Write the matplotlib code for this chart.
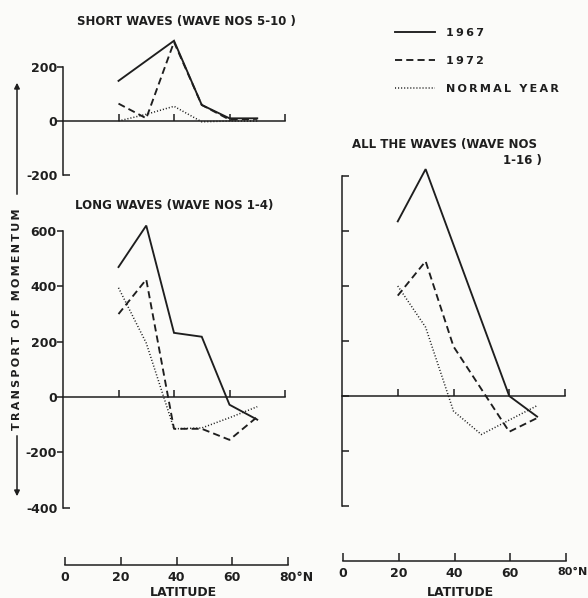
import matplotlib.pyplot as plt
from matplotlib.lines import Line2D

# poleward transport of momentum by standing waves, 1967 vs 1972 vs normal
lat_sw_1967 = [20, 40, 50, 60, 70]
sw_1967 = [150, 300, 60, 10, 10]
lat_sw_1972 = [20, 30, 40, 50, 60, 70]
sw_1972 = [65, 10, 295, 60, 5, 8]
lat_sw_normal = [20, 30, 40, 50, 60, 70]
sw_normal = [0, 25, 55, -3, 0, 0]

lat_lw = [20, 30, 40, 50, 60, 70]
lw_1967 = [470, 620, 232, 218, -28, -82]
lw_1972 = [300, 425, -115, -115, -155, -72]
lw_normal = [395, 195, -115, -112, -75, -35]

lat_aw_1967 = [20, 30, 60, 70]
aw_1967 = [635, 825, 0, -75]
lat_aw_1972 = [20, 30, 40, 60, 70]
aw_1972 = [365, 490, 180, -130, -80]
lat_aw_normal = [20, 30, 40, 50, 70]
aw_normal = [400, 250, -55, -140, -35]

lat_ticks = [0, 20, 40, 60, 80]
series_names = ['1967', '1972', 'NORMAL YEAR']

W, H = 588, 598
INK = '#1e1e1e'
FONT = dict(family='DejaVu Sans', weight='bold', color=INK)
TICKFONT = dict(family='DejaVu Sans', weight='bold', size=9)

STYLE = {
    '1967': dict(ls='-', lw=1.35),
    '1972': dict(ls=(0, (3.8, 2.2)), lw=1.35),
    'NORMAL YEAR': dict(ls=(0, (0.7, 1.3)), lw=1.1),
}


def rect(x0, x1, y_top, y_bot):
    # pixel box -> figure fraction
    return [x0 / W, (H - y_bot) / H, (x1 - x0) / W, (y_bot - y_top) / H]


def spread(s):
    return '\u2009'.join(s)


def panel(ax, ylim, ybounds, yticks, labelled):
    ax.set_xlim(0, 80)
    ax.set_ylim(*ylim)
    for side in ('top', 'right'):
        ax.spines[side].set_visible(False)
    ax.spines['bottom'].set_position(('data', 0))
    ax.spines['bottom'].set_bounds(0, 80)
    ax.spines['left'].set_bounds(*ybounds)
    for sp in ax.spines.values():
        sp.set_color(INK)
        sp.set_linewidth(1.1)
    ax.set_xticks([20, 40, 60, 80])
    ax.tick_params(axis='x', direction='in', length=5, width=1.1,
                   color=INK, labelbottom=False)
    if labelled:
        ax.set_yticks(yticks[1:], labels=[str(v) for v in yticks[1:]])
        ax.set_yticks(yticks[:1], labels=[str(yticks[0])], minor=True)
        ax.tick_params(axis='y', which='major', direction='out', length=4,
                       width=1.1, pad=0.5, color=INK)
        ax.tick_params(axis='y', which='minor', direction='in', length=5,
                       width=1.1, pad=4, color=INK)
        for lab in ax.get_yticklabels(which='both'):
            lab.set_fontproperties(TICKFONT)
            lab.set_color(INK)
    else:
        ax.set_yticks(yticks)
        ax.tick_params(axis='y', direction='in', length=5, width=1.1,
                       color=INK, labelleft=False)
    ax.patch.set_alpha(0)


def draw(ax, lats, vals):
    for (x, y), name in zip(zip(lats, vals), series_names):
        ax.plot(x, y, color=INK, clip_on=False, solid_joinstyle='miter',
                **STYLE[name])


def lat_axis(rect_px, label_x, unit_size):
    ax = fig.add_axes(rect_px)
    ax.set_xlim(0, 80)
    ax.set_ylim(0, 1)
    for side in ('top', 'right', 'left'):
        ax.spines[side].set_visible(False)
    ax.spines['bottom'].set_color(INK)
    ax.spines['bottom'].set_linewidth(1.1)
    ax.set_yticks([])
    ax.set_xticks(lat_ticks, labels=[str(v) for v in lat_ticks[:-1]] + [''])
    ax.tick_params(axis='x', direction='in', length=6, width=1.1, pad=4, color=INK)
    for lab in ax.get_xticklabels():
        lab.set_fontproperties(TICKFONT)
        lab.set_color(INK)
    ax.annotate('80°N', xy=(80, 0), xycoords='data', xytext=(-6, -4),
                textcoords='offset points', ha='left', va='top',
                fontsize=unit_size, **FONT)
    ax.patch.set_alpha(0)
    fig.text(label_x / W, 1 - 593 / H, 'LATITUDE', ha='center',
             va='center', fontsize=9, **FONT)


fig = plt.figure(figsize=(W / 100, H / 100), dpi=100)
fig.patch.set_facecolor('#fbfbf9')

# short waves: zero at y=121 px, 53.5 px per 200 units
ax_sw = fig.add_axes(rect(63, 285, 121 - 320 * 0.2675, 121 + 200 * 0.2675))
panel(ax_sw, (-200, 320), (-200, 200), [-200, 0, 200], True)
draw(ax_sw, [lat_sw_1967, lat_sw_1972, lat_sw_normal], [sw_1967, sw_1972, sw_normal])

# long waves: zero at y=397 px, 55.3 px per 200 units
ax_lw = fig.add_axes(rect(63, 285, 397 - 650 * 0.2765, 397 + 400 * 0.2765))
panel(ax_lw, (-400, 650), (-400, 600), [-400, -200, 0, 200, 400, 600], True)
draw(ax_lw, [lat_lw] * 3, [lw_1967, lw_1972, lw_normal])

# all waves: zero at y=396 px, same scale, unlabelled axis
ax_aw = fig.add_axes(rect(342, 565, 396 - 860 * 0.275, 396 + 400 * 0.275))
panel(ax_aw, (-400, 860), (-400, 800), [-400, -200, 0, 200, 400, 600, 800], False)
draw(ax_aw, [lat_aw_1967, lat_aw_1972, lat_aw_normal], [aw_1967, aw_1972, aw_normal])

fig.text(77 / W, 1 - 21 / H, 'SHORT WAVES (WAVE NOS 5-10 )',
         ha='left', va='center', fontsize=8.5, **FONT)
fig.text(75 / W, 1 - 205 / H, 'LONG WAVES (WAVE NOS 1-4)',
         ha='left', va='center', fontsize=8.5, **FONT)
fig.text(352 / W, 1 - 145 / H, 'ALL THE WAVES (WAVE NOS',
         ha='left', va='center', fontsize=8.5, **FONT)
fig.text(542 / W, 1 - 161 / H, '1-16 )',
         ha='right', va='center', fontsize=8.5, **FONT)

# y label with arrows above and below
fig.text(17 / W, 1 - 319 / H, spread('TRANSPORT OF MOMENTUM'), rotation=90,
         ha='center', va='center', fontsize=8, **FONT)
fig.add_artist(plt.Annotation('', xy=(17 / W, 1 - 80 / H), xytext=(17 / W, 1 - 197 / H),
                              xycoords='figure fraction',
                              arrowprops=dict(arrowstyle='-|>', color=INK, lw=1.1,
                                              mutation_scale=8)))
fig.add_artist(plt.Annotation('', xy=(17 / W, 1 - 499 / H), xytext=(17 / W, 1 - 433 / H),
                              xycoords='figure fraction',
                              arrowprops=dict(arrowstyle='-|>', color=INK, lw=1.1,
                                              mutation_scale=8)))

lat_axis(rect(65, 288, 555, 565), 183, 9)
lat_axis(rect(343, 566, 551, 561), 460, 8)

handles = [Line2D([], [], color=INK, **STYLE[n]) for n in series_names]
fig.legend(handles, [spread(n) for n in series_names], loc='upper left',
           bbox_to_anchor=(395 / W, 1 - 28 / H), frameon=False, borderpad=0,
           borderaxespad=0, handlelength=3.6, handletextpad=1.0, labelspacing=1.6,
           prop=dict(family='DejaVu Sans', weight='bold', size=8))
for t in fig.legends[0].get_texts():
    t.set_color(INK)

fig.savefig('out.png', dpi=100, facecolor=fig.get_facecolor())
